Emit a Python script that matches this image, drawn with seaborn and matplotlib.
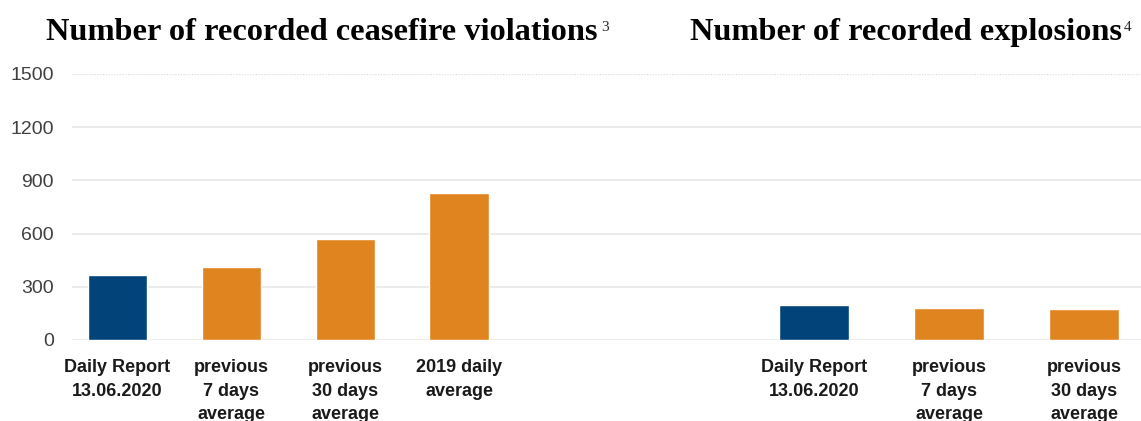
import matplotlib
matplotlib.use('Agg')
import matplotlib.pyplot as plt
import seaborn as sns

# data
cease_cats = ['Daily Report\n13.06.2020', 'previous\n7 days\naverage',
              'previous\n30 days\naverage', '2019 daily\naverage']
cease_vals = [365, 413, 571, 831]
expl_cats = ['Daily Report\n13.06.2020', 'previous\n7 days\naverage',
             'previous\n30 days\naverage']
expl_vals = [196, 180, 173]
yticks = [0, 300, 600, 900, 1200, 1500]

blue = '#02437A'
orange = '#E0841F'

sns.set_theme(style='white')
plt.rcParams['font.family'] = ['Liberation Sans', 'DejaVu Sans']

fig = plt.figure(figsize=(11.41, 4.21), dpi=100)
W, H = 1141, 421
bottom = (H - 340) / H
height = (340 - 74) / H
ax1 = fig.add_axes([72 / W, bottom, (516 - 72) / W, height])
ax2 = fig.add_axes([516 / W, bottom, (W - 516) / W, height])

sns.barplot(x=cease_cats, y=cease_vals, hue=cease_cats,
            palette=[blue, orange, orange, orange], legend=False,
            width=0.52, ax=ax1, saturation=1)
sns.barplot(x=expl_cats, y=expl_vals, hue=expl_cats,
            palette=[blue, orange, orange], legend=False,
            width=0.52, ax=ax2, saturation=1)

ax1.set_xlim(-0.4, 3.5)
ax2.set_xlim(-2.21, 2.42)

for ax in (ax1, ax2):
    ax.set_ylim(0, 1500)
    ax.set_yticks(yticks)
    for y in yticks:
        if y == 1500:
            ax.axhline(y, color='#d9d9d9', lw=0.8, ls=(0, (1, 1.5)), zorder=0)
        else:
            ax.axhline(y, color='#e8e8e8', lw=1.2, zorder=0)
    for s in ax.spines.values():
        s.set_visible(False)
    ax.tick_params(axis='both', length=0)
    ax.set_xlabel('')
    ax.set_ylabel('')
    for lab in ax.get_xticklabels():
        lab.set_fontweight('bold')
        lab.set_fontsize(13)
        lab.set_color('#1a1a1a')
        lab.set_linespacing(1.5)
        lab.set_verticalalignment('top')
    ax.tick_params(axis='x', pad=14)

ax1.tick_params(axis='y', labelsize=14, labelcolor='#404040', pad=13)
ax2.set_yticklabels([])

# titles with superscript footnote marks
title_kw = dict(family='Liberation Serif', fontweight='bold', fontsize=23.3,
                color='black', va='baseline')
fig.text(598 / W, 1 - 40 / H, 'Number of recorded ceasefire violations',
         ha='right', **title_kw)
fig.text(601 / W, 1 - 31 / H, '3', ha='left', va='baseline',
         family='Liberation Serif', fontsize=11)
fig.text(1122 / W, 1 - 40 / H, 'Number of recorded explosions',
         ha='right', **title_kw)
fig.text(1124 / W, 1 - 31 / H, '4', ha='left', va='baseline',
         family='Liberation Serif', fontsize=11)

fig.savefig('out.png', dpi=100)
